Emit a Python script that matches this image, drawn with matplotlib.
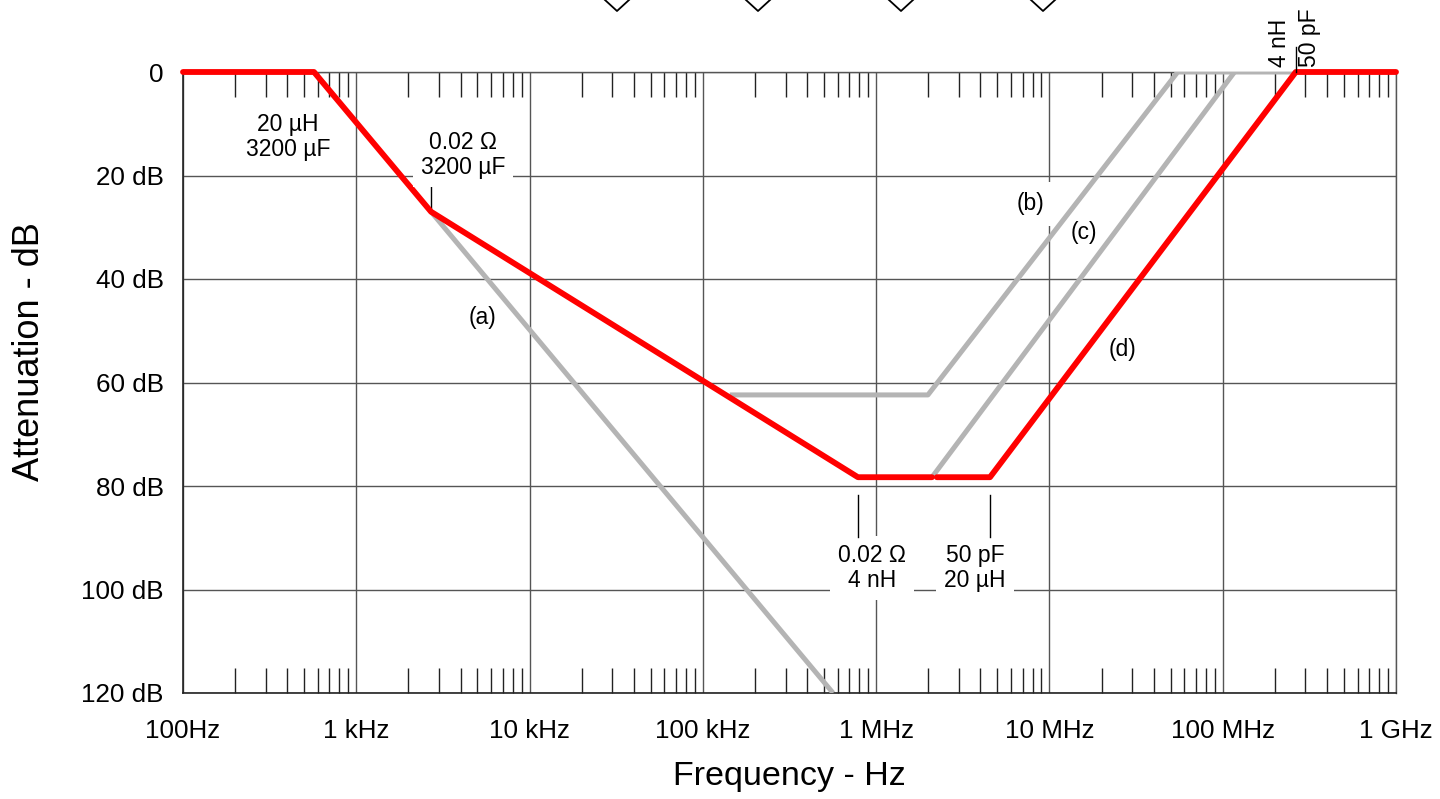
import numpy as np
import matplotlib
matplotlib.use('Agg')
import matplotlib.pyplot as plt
from matplotlib.lines import Line2D
from matplotlib.ticker import FixedLocator, NullFormatter

plt.rcParams['font.family'] = ['Liberation Sans', 'DejaVu Sans']

# red curve (d), split in two parts with a small gap
red1_f = [100, 570, 2700, 785e3, 2.1e6]
red1_db = [0, 0, 27.0, 78.3, 78.3]
red2_f = [2.24e6, 4.54e6, 264e6, 1e9]
red2_db = [78.3, 78.3, 0, 0]

# gray curves
a_f = [2700, 564e3]
a_db = [27.0, 120]
b_f = [143e3, 1.99e6, 55e6, 264e6]
b_db = [62.4, 62.4, 0, 0]
c_f = [2.1e6, 117e6]
c_db = [78.3, 0]

xticks = [1e2, 1e3, 1e4, 1e5, 1e6, 1e7, 1e8, 1e9]
xlabels = ['100Hz', '1 kHz', '10 kHz', '100 kHz', '1 MHz', '10 MHz', '100 MHz', '1 GHz']
yticks = [0, 20, 40, 60, 80, 100, 120]
ylabels = ['0', '20 dB', '40 dB', '60 dB', '80 dB', '100 dB', '120 dB']

fig = plt.figure(figsize=(14.4, 7.99), dpi=100)
ax = fig.add_axes([183/1440, 1-693/799, (1396-183)/1440, (693-72)/799])
ax.set_xscale('log')
ax.set_xlim(1e2, 1e9)
ax.set_ylim(120, 0)

gray = '#b4b4b4'
red = '#ff0000'
ax.plot(a_f, a_db, color=gray, lw=3.6, solid_capstyle='butt', zorder=3)
ax.plot(b_f, b_db, color=gray, lw=3.6, solid_capstyle='butt', zorder=3)
ax.plot(c_f, c_db, color=gray, lw=3.6, solid_capstyle='butt', zorder=3)
ax.plot(red1_f, red1_db, color=red, lw=4.2, solid_capstyle='round', zorder=4, clip_on=False)
ax.plot(red2_f, red2_db, color=red, lw=4.2, solid_capstyle='round', zorder=4, clip_on=False)

# grid
ax.set_xticks(xticks)
ax.set_xticklabels(xlabels, fontsize=18.7)
ax.set_yticks(yticks)
ax.set_yticklabels(ylabels, fontsize=18.7)
minors = [m * 10**e for e in range(2, 9) for m in range(2, 10)]
ax.xaxis.set_minor_locator(FixedLocator(minors))
ax.xaxis.set_minor_formatter(NullFormatter())
ax.grid(True, which='major', color='#555555', lw=1.0, zorder=1)
ax.tick_params(axis='x', which='major', length=0, pad=19)
ax.tick_params(axis='y', which='major', length=0, pad=14)
ax.tick_params(axis='x', which='minor', direction='in', length=18, width=1.0,
               color='#222222', top=True, bottom=True)
for s in ['top', 'right']:
    ax.spines[s].set_color('#555555')
    ax.spines[s].set_linewidth(1.0)
for s in ['left', 'bottom']:
    ax.spines[s].set_color('#222222')
    ax.spines[s].set_linewidth(1.2)

ax.set_xlabel('Frequency - Hz', fontsize=24.5)
ax.xaxis.label.set_va('center')
ax.xaxis.set_label_coords(0.5, -(777-693)/621)
ax.set_ylabel('Attenuation - dB', fontsize=26)
ax.yaxis.label.set_va('center')
ax.yaxis.set_label_coords(-(183-30)/1213, (693-352)/621)

box = dict(boxstyle='square,pad=0.35', fc='white', ec='none')
tk = dict(ha='center', va='center', fontsize=16.5, linespacing=1.1, zorder=5)
ax.text(404, 12.6, '20 \u00b5H\n3200 \u00b5F', **tk)
ax.text(4130, 16.0, '0.02 \u03a9\n3200 \u00b5F', bbox=box, **tk)
ax.plot([2700, 2700], [21.2, 27.0], color='black', lw=1.0, zorder=3.5)
ax.text(946e3, 95.9, '0.02 \u03a9\n4 nH', bbox=box, **tk)
ax.plot([785e3, 785e3], [81.8, 89.9], color='black', lw=1.0, zorder=5)
ax.text(3.72e6, 95.9, '50 pF\n20 \u00b5H', bbox=box, **tk)
ax.plot([4.54e6, 4.54e6], [81.8, 89.9], color='black', lw=1.0, zorder=5)

ax.plot([264e6, 264e6], [-4.8, 0], color='black', lw=1.0, zorder=5, clip_on=False)
ax.text(214e6, -1.0, '4 nH', rotation=90, ha='center', va='bottom', fontsize=16.5)
ax.text(318e6, -1.0, '50 pF', rotation=90, ha='center', va='bottom', fontsize=16.5)

ax.text(5380, 47.5, '(a)', **tk)
ax.text(7.82e6, 25.5, '(b)', bbox=dict(boxstyle='square,pad=0.45', fc='white', ec='none'), **tk)
ax.text(15.8e6, 31.0, '(c)', **tk)
ax.text(26.5e6, 53.7, '(d)', **tk)

# cut-off diamond marks at the top edge
for px in [617, 758, 901, 1043]:
    fig.add_artist(Line2D([(px-12)/1440, px/1440, (px+12)/1440],
                          [1.0, 1-11/799, 1.0], color='black', lw=1.3,
                          transform=fig.transFigure))

fig.savefig('out.png', dpi=100)
